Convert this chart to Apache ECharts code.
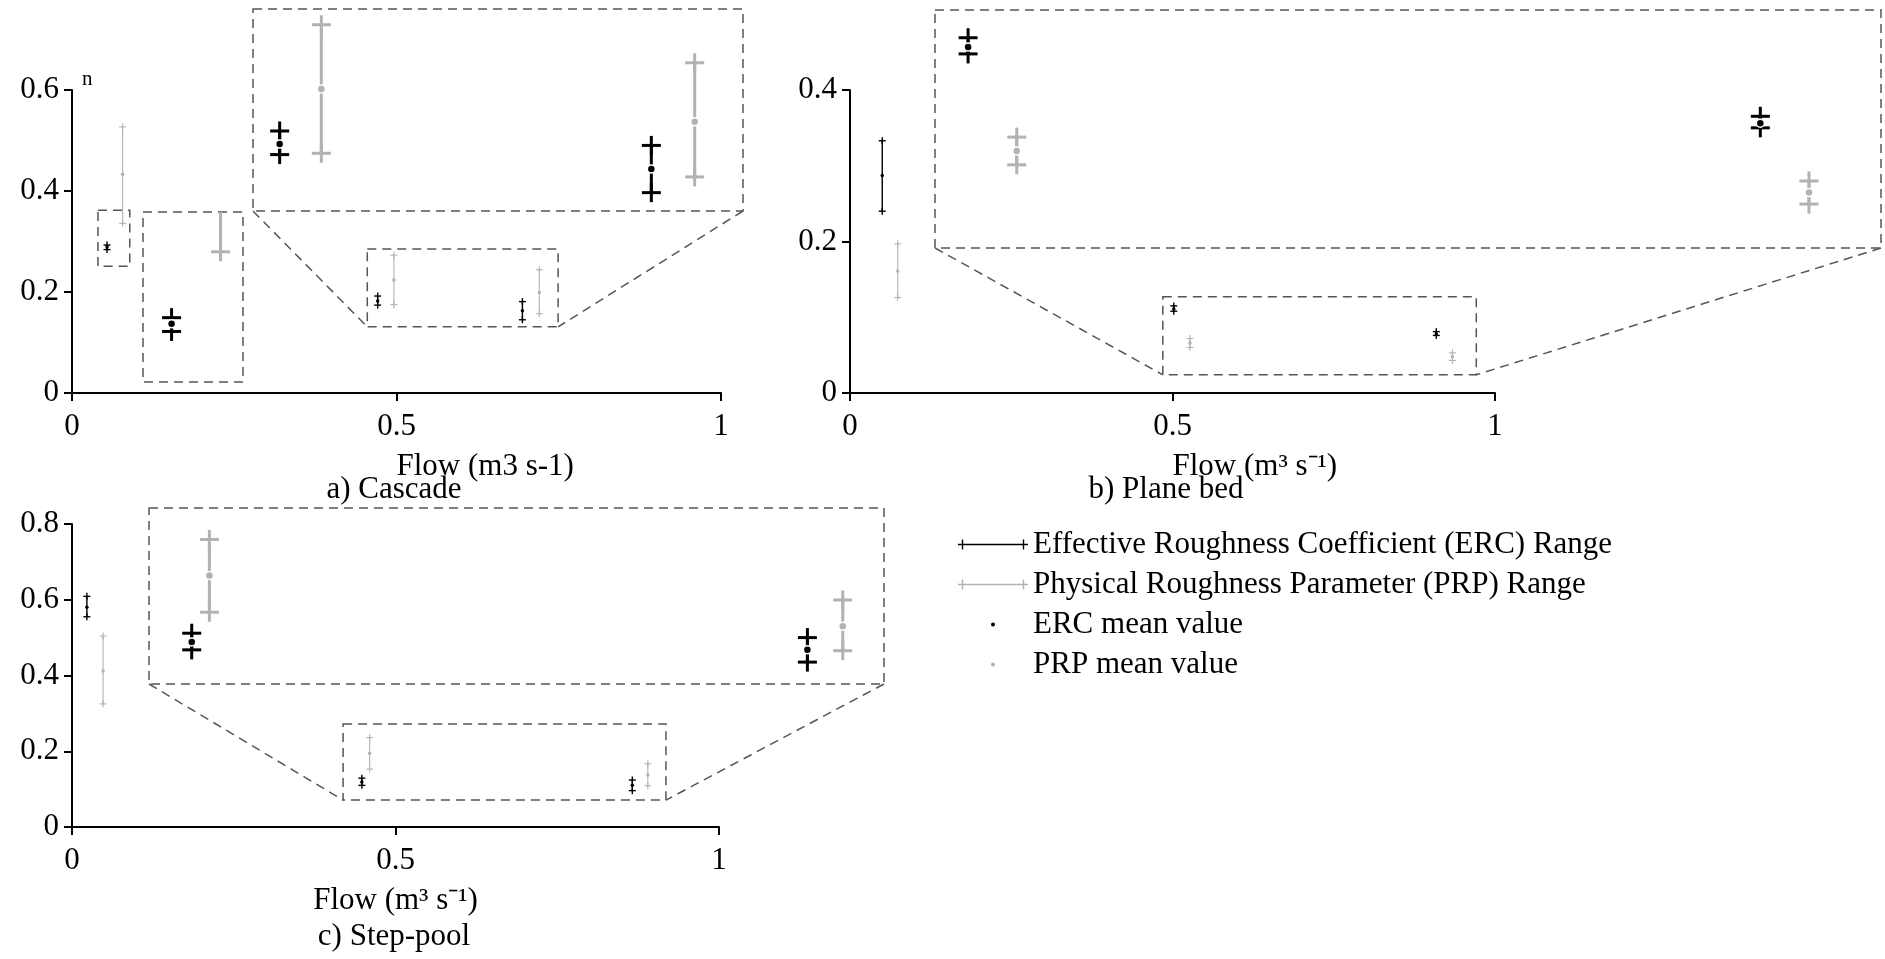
<!DOCTYPE html>
<html>
<head>
<meta charset="utf-8">
<script src="https://cdn.jsdelivr.net/npm/echarts@6/dist/echarts.min.js"></script>
<style>
  html, body { margin: 0; padding: 0; background: #fff; }
  #chart { width: 1885px; height: 959px; }
</style>
</head>
<body>
<div id="chart"></div>
<script>
// ---- Cascade reach ----
const cascadeErcFlow = [0.054, 0.471, 0.694];
const cascadeErcMin  = [0.284, 0.174, 0.145];
const cascadeErcMean = [0.289, 0.182, 0.163];
const cascadeErcMax  = [0.293, 0.192, 0.181];
const cascadePrpFlow = [0.078, 0.496, 0.720];
const cascadePrpMin  = [0.336, 0.175, 0.157];
const cascadePrpMean = [0.433, 0.224, 0.199];
const cascadePrpMax  = [0.527, 0.273, 0.244];

// ---- Plane bed reach ----
const planeErcFlow = [0.050, 0.502, 0.909];
const planeErcMin  = [0.240, 0.108, 0.076];
const planeErcMean = [0.287, 0.111, 0.078];
const planeErcMax  = [0.333, 0.115, 0.081];
const planePrpFlow = [0.074, 0.527, 0.934];
const planePrpMin  = [0.126, 0.060, 0.043];
const planePrpMean = [0.161, 0.066, 0.048];
const planePrpMax  = [0.197, 0.072, 0.053];

// ---- Step-pool reach ----
const stepErcFlow = [0.023, 0.448, 0.866];
const stepErcMin  = [0.555, 0.110, 0.096];
const stepErcMean = [0.580, 0.119, 0.110];
const stepErcMax  = [0.609, 0.129, 0.124];
const stepPrpFlow = [0.048, 0.460, 0.890];
const stepPrpMin  = [0.325, 0.153, 0.109];
const stepPrpMean = [0.412, 0.195, 0.137];
const stepPrpMax  = [0.504, 0.236, 0.167];

// ---- Axis ticks ----
const flowTicks = [0, 0.5, 1];
const cascadeNTicks = [0, 0.2, 0.4, 0.6];
const planeNTicks = [0, 0.2, 0.4];
const stepNTicks = [0, 0.2, 0.4, 0.6, 0.8];

// ---- Magnified windows (flow range, n range) ----
const cascadeZoomFlow = [0.455, 0.749];
const cascadeZoomN    = [0.131, 0.285];
const cascadeZoom2Flow = [0.040, 0.089];
const cascadeZoom2N    = [0.251, 0.362];
const planeZoomFlow = [0.485, 0.971];
const planeZoomN    = [0.024, 0.127];
const stepZoomFlow = [0.419, 0.918];
const stepZoomN    = [0.071, 0.272];

const FONT = '"Liberation Serif", "Times New Roman", serif';
const ERC_COLOR = '#000000';
const PRP_COLOR = '#b2b2b2';
const BOX_COLOR = '#555555';
const ERC_RANGE = 'Effective Roughness Coefficient (ERC) Range';
const PRP_RANGE = 'Physical Roughness Parameter (PRP) Range';
const ERC_MEAN = 'ERC mean value';
const PRP_MEAN = 'PRP mean value';

const panels = [
  {
    grid: { left: 72, top: 90, width: 649, height: 303 },
    nTicks: cascadeNTicks, xName: 'Flow (m3 s-1)', nameAlign: 'left', yName: 'n',
    erc: { flow: cascadeErcFlow, min: cascadeErcMin, mean: cascadeErcMean, max: cascadeErcMax },
    prp: { flow: cascadePrpFlow, min: cascadePrpMin, mean: cascadePrpMean, max: cascadePrpMax },
    zooms: [
      { flow: cascadeZoomFlow, n: cascadeZoomN, rect: { left: 253, top: 9, width: 490, height: 202 }, connect: true },
      { flow: cascadeZoom2Flow, n: cascadeZoom2N, rect: { left: 143, top: 212, width: 100, height: 170 }, connect: false }
    ]
  },
  {
    grid: { left: 850, top: 90, width: 645, height: 303 },
    nTicks: planeNTicks, xName: 'Flow (m\u00b3 s\u207b\u00b9)', nameAlign: 'left', yName: '',
    erc: { flow: planeErcFlow, min: planeErcMin, mean: planeErcMean, max: planeErcMax },
    prp: { flow: planePrpFlow, min: planePrpMin, mean: planePrpMean, max: planePrpMax },
    zooms: [
      { flow: planeZoomFlow, n: planeZoomN, rect: { left: 935, top: 10, width: 946, height: 238 }, connect: true }
    ]
  },
  {
    grid: { left: 72, top: 524, width: 647, height: 303 },
    nTicks: stepNTicks, xName: 'Flow (m\u00b3 s\u207b\u00b9)', nameAlign: 'center', yName: '',
    erc: { flow: stepErcFlow, min: stepErcMin, mean: stepErcMean, max: stepErcMax },
    prp: { flow: stepPrpFlow, min: stepPrpMin, mean: stepPrpMean, max: stepPrpMax },
    zooms: [
      { flow: stepZoomFlow, n: stepZoomN, rect: { left: 149, top: 508, width: 735, height: 176 }, connect: true }
    ]
  }
];

const panelTitles = [
  { text: 'a) Cascade', x: 394, y: 490 },
  { text: 'b) Plane bed', x: 1166, y: 490 },
  { text: 'c) Step-pool', x: 394, y: 937 }
];

// Error bar: vertical segment with a cross at each end
function rangeRenderer(color, lw, cross) {
  return function (params, api) {
    const x = api.value(0);
    const lo = api.coord([x, api.value(1)]);
    const hi = api.coord([x, api.value(2)]);
    const h = cross / 2;
    const style = { stroke: color, lineWidth: lw, fill: null };
    const seg = (x1, y1, x2, y2) => ({ type: 'line', shape: { x1, y1, x2, y2 }, style });
    return {
      type: 'group',
      children: [
        seg(lo[0], lo[1], hi[0], hi[1]),
        seg(lo[0] - h, lo[1], lo[0] + h, lo[1]),
        seg(lo[0], lo[1] - h, lo[0], lo[1] + h),
        seg(hi[0] - h, hi[1], hi[0] + h, hi[1]),
        seg(hi[0], hi[1] - h, hi[0], hi[1] + h)
      ]
    };
  };
}

const grids = [], xAxes = [], yAxes = [], series = [];

function addMarks(gi, p, look) {
  series.push({
    name: ERC_RANGE, type: 'custom', xAxisIndex: gi, yAxisIndex: gi, clip: true, silent: true,
    itemStyle: { color: ERC_COLOR }, encode: { x: 0, y: [1, 2] }, z: 3,
    renderItem: rangeRenderer(ERC_COLOR, look.ercLw, look.cross),
    data: p.erc.flow.map((f, i) => [f, p.erc.min[i], p.erc.max[i]])
  });
  series.push({
    name: PRP_RANGE, type: 'custom', xAxisIndex: gi, yAxisIndex: gi, clip: true, silent: true,
    itemStyle: { color: PRP_COLOR }, encode: { x: 0, y: [1, 2] }, z: 3,
    renderItem: rangeRenderer(PRP_COLOR, look.prpLw, look.cross),
    data: p.prp.flow.map((f, i) => [f, p.prp.min[i], p.prp.max[i]])
  });
  series.push({
    name: ERC_MEAN, type: 'scatter', xAxisIndex: gi, yAxisIndex: gi, clip: true, silent: true,
    symbol: 'circle', symbolSize: look.dot, z: 4,
    itemStyle: { color: ERC_COLOR, borderColor: '#fff', borderWidth: look.halo, opacity: 1 },
    data: p.erc.flow.map((f, i) => [f, p.erc.mean[i]])
  });
  series.push({
    name: PRP_MEAN, type: 'scatter', xAxisIndex: gi, yAxisIndex: gi, clip: true, silent: true,
    symbol: 'circle', symbolSize: look.dot, z: 4,
    itemStyle: { color: PRP_COLOR, borderColor: '#fff', borderWidth: look.halo, opacity: 1 },
    data: p.prp.flow.map((f, i) => [f, p.prp.mean[i]])
  });
}

const axisText = { fontFamily: FONT, fontSize: 31, color: '#000' };
const mainLook = { ercLw: 1.4, prpLw: 1.1, cross: 7, dot: 3.5, halo: 0 };
const insetLook = { ercLw: 3, prpLw: 3, cross: 19, dot: 8, halo: 1.5 };

// main panels
panels.forEach((p, k) => {
  grids.push(Object.assign({ containLabel: false }, p.grid));
  const nMax = p.nTicks[p.nTicks.length - 1];
  xAxes.push({
    gridIndex: k, type: 'value', min: flowTicks[0], max: flowTicks[flowTicks.length - 1],
    interval: flowTicks[1] - flowTicks[0],
    axisLine: { show: true, onZero: false, lineStyle: { color: '#000', width: 2 } },
    axisTick: { show: true, length: 8, lineStyle: { color: '#000', width: 2 } },
    axisLabel: Object.assign({ margin: 18 }, axisText),
    splitLine: { show: false },
    name: p.xName, nameLocation: 'middle', nameGap: 58,
    nameTextStyle: { fontFamily: FONT, fontSize: 31, color: '#000', align: p.nameAlign }
  });
  yAxes.push({
    gridIndex: k, type: 'value', min: p.nTicks[0], max: nMax, interval: p.nTicks[1] - p.nTicks[0],
    axisLine: { show: true, onZero: false, lineStyle: { color: '#000', width: 2 } },
    axisTick: { show: true, length: 8, lineStyle: { color: '#000', width: 2 } },
    axisLabel: Object.assign({ margin: 13 }, axisText),
    splitLine: { show: false },
    name: p.yName, nameLocation: 'end', nameGap: 0,
    nameTextStyle: { fontFamily: FONT, fontSize: 21, color: '#000', align: 'left', padding: [0, 0, 0, 10] }
  });
  addMarks(k, p, mainLook);
});

// magnified windows
const zoomLinks = [];
panels.forEach((p, k) => {
  p.zooms.forEach(z => {
    const gi = grids.length;
    grids.push(Object.assign({ containLabel: false }, z.rect));
    xAxes.push({ gridIndex: gi, type: 'value', min: z.flow[0], max: z.flow[1], show: false, splitLine: { show: false } });
    yAxes.push({ gridIndex: gi, type: 'value', min: z.n[0], max: z.n[1], show: false, splitLine: { show: false } });
    addMarks(gi, p, insetLook);
    zoomLinks.push({ main: k, inset: gi, flow: z.flow, n: z.n, connect: z.connect });
  });
});

const rangeIcon = 'path://M0,0 M70,12 M0,5.3 H70 V6.7 H0 Z M3.8,1 H5.2 V11 H3.8 Z M64.8,1 H66.2 V11 H64.8 Z';
const dotIcon = 'path://M0,0 M70,12 M33,6 a2,2 0 1,0 4,0 a2,2 0 1,0 -4,0 Z';

const option = {
  animation: false,
  backgroundColor: '#fff',
  grid: grids,
  xAxis: xAxes,
  yAxis: yAxes,
  legend: {
    orient: 'vertical', left: 953, top: 523,
    itemWidth: 70, itemHeight: 12, itemGap: 7, itemTextGap: 18,
    selectedMode: false,
    itemStyle: { borderWidth: 0 },
    textStyle: { fontFamily: FONT, fontSize: 31, color: '#000', lineHeight: 33 },
    data: [
      { name: ERC_RANGE, icon: rangeIcon, itemStyle: { color: ERC_COLOR } },
      { name: PRP_RANGE, icon: rangeIcon, itemStyle: { color: PRP_COLOR } },
      { name: ERC_MEAN, icon: dotIcon, itemStyle: { color: ERC_COLOR } },
      { name: PRP_MEAN, icon: dotIcon, itemStyle: { color: PRP_COLOR } }
    ]
  },
  series: series
};

const chart = echarts.init(document.getElementById('chart'));
chart.setOption(option);

// dashed frames around each magnified window and its source region
const dashed = { stroke: BOX_COLOR, lineWidth: 1.5, lineDash: [9, 6], fill: null };
const shapes = [];
zoomLinks.forEach(z => {
  const a = chart.convertToPixel({ gridIndex: z.main }, [z.flow[0], z.n[1]]);
  const b = chart.convertToPixel({ gridIndex: z.main }, [z.flow[1], z.n[0]]);
  const c = chart.convertToPixel({ gridIndex: z.inset }, [z.flow[0], z.n[1]]);
  const d = chart.convertToPixel({ gridIndex: z.inset }, [z.flow[1], z.n[0]]);
  shapes.push({ type: 'rect', silent: true, shape: { x: a[0], y: a[1], width: b[0] - a[0], height: b[1] - a[1] }, style: dashed });
  shapes.push({ type: 'rect', silent: true, shape: { x: c[0], y: c[1], width: d[0] - c[0], height: d[1] - c[1] }, style: dashed });
  if (z.connect) {
    shapes.push({ type: 'line', silent: true, shape: { x1: c[0], y1: d[1], x2: a[0], y2: b[1] }, style: dashed });
    shapes.push({ type: 'line', silent: true, shape: { x1: d[0], y1: d[1], x2: b[0], y2: b[1] }, style: dashed });
  }
});
panelTitles.forEach(t => {
  shapes.push({
    type: 'text', silent: true, x: t.x, y: t.y,
    style: { text: t.text, fontFamily: FONT, fontSize: 31, fill: '#000', align: 'center', verticalAlign: 'middle' }
  });
});
chart.setOption({ graphic: shapes });
</script>
</body>
</html>
